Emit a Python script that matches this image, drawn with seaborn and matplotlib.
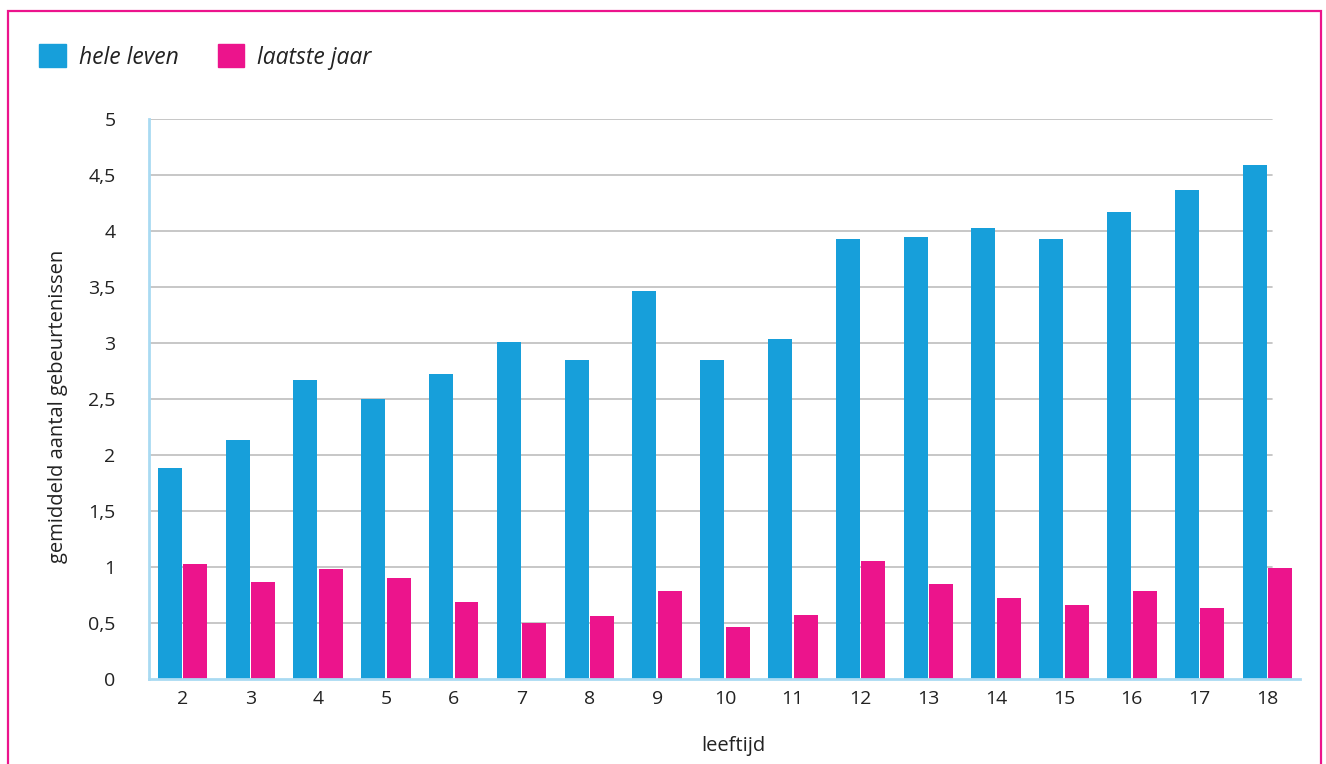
import numpy as np
import pandas as pd
import matplotlib
matplotlib.use("Agg")
import matplotlib.pyplot as plt
import matplotlib.patches as mpatches
import seaborn as sns

# leeftijden en gemiddelde aantallen
leeftijd = [2, 3, 4, 5, 6, 7, 8, 9, 10, 11, 12, 13, 14, 15, 16, 17, 18]
hele_leven = [1.88, 2.13, 2.67, 2.50, 2.72, 3.01, 2.85, 3.46, 2.85, 3.04,
              3.93, 3.95, 4.03, 3.93, 4.17, 4.37, 4.59]
laatste_jaar = [1.03, 0.87, 0.98, 0.90, 0.69, 0.50, 0.56, 0.79, 0.46, 0.57,
                1.05, 0.85, 0.72, 0.66, 0.79, 0.63, 0.99]
reeksen = ["hele leven", "laatste jaar"]
kleuren = ["#179fda", "#ec148c"]
yticks = [0, 0.5, 1, 1.5, 2, 2.5, 3, 3.5, 4, 4.5, 5]
ytick_labels = ["0", "0,5", "1", "1,5", "2", "2,5", "3", "3,5", "4", "4,5", "5"]

df = pd.DataFrame({
    "leeftijd": leeftijd * 2,
    "waarde": hele_leven + laatste_jaar,
    "reeks": [reeksen[0]] * len(leeftijd) + [reeksen[1]] * len(leeftijd),
})

sns.set_style("white")
plt.rcParams["font.family"] = ["Open Sans", "DejaVu Sans"]

fig = plt.figure(figsize=(13.26, 7.64), dpi=100)
ax = fig.add_axes([149 / 1326, 85 / 764, 1151 / 1326, 560 / 764])

sns.barplot(data=df, x="leeftijd", y="waarde", hue="reeks", palette=kleuren,
            width=0.752, gap=0.06, saturation=1, linewidth=0, ax=ax,
            legend=False, zorder=3)

ax.set_xlim(-0.494, 16.48)
ax.set_ylim(0, 5)
ax.set_yticks(yticks)
ax.set_yticklabels(ytick_labels)
for y in yticks[1:]:
    ax.axhline(y, xmin=0, xmax=0.976, color="#bdbdbd", lw=1.2, zorder=1)

for s in ["top", "right"]:
    ax.spines[s].set_visible(False)
ax.spines["left"].set_color("#a9daf2")
ax.spines["left"].set_linewidth(2)
ax.spines["bottom"].set_color("#a9daf2")
ax.spines["bottom"].set_linewidth(2)
ax.spines["bottom"].set_zorder(4)

ax.tick_params(axis="y", length=0, pad=24, labelsize=14, labelcolor="#222222")
ax.tick_params(axis="x", length=0, pad=8, labelsize=14, labelcolor="#222222")

ax.set_xlabel("leeftijd", fontsize=14.5, color="#222222")
ax.set_ylabel("gemiddeld aantal gebeurtenissen", fontsize=14.5, color="#222222")
ax.xaxis.set_label_coords(0.508, -0.102)
ax.yaxis.set_label_coords(-0.070, 0.487)

handles = [mpatches.Patch(color=c, label=l) for c, l in zip(kleuren, reeksen)]
leg = fig.legend(handles=handles, loc="center left",
                 bbox_to_anchor=(39 / 1326, 1 - 57 / 764), ncol=2, frameon=False,
                 handlelength=1.16, handleheight=1.16, handletextpad=0.58,
                 columnspacing=1.7, borderpad=0, borderaxespad=0,
                 prop={"style": "italic", "size": 16.5})
for t in leg.get_texts():
    t.set_color("#222222")

frame = mpatches.Rectangle((8 / 1326, -0.05), 1313 / 1326, 1.05 - 11 / 764,
                           transform=fig.transFigure, fill=False,
                           edgecolor="#ec148c", lw=1.6, clip_on=False)
fig.patches.append(frame)

fig.savefig("out.png", dpi=100)
